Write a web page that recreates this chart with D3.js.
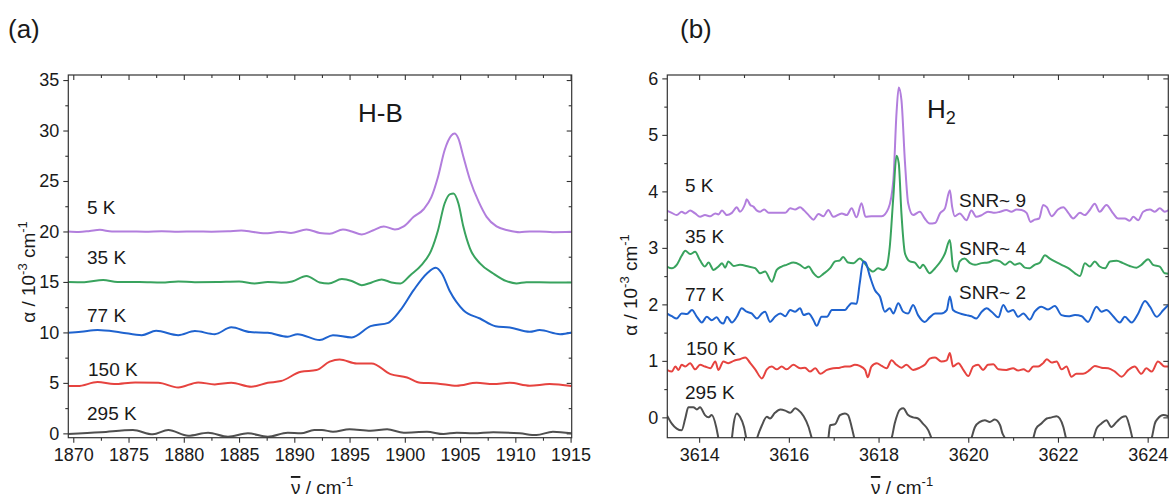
<!DOCTYPE html>
<html lang="en">
<head>
    <meta charset="UTF-8">
    <title>Temperature dependent spectra</title>
    <script src="https://d3js.org/d3.v7.min.js"></script>
    <style>
        body { margin: 0; background: #fff; }
        text { font-family: "Liberation Sans", Arial, sans-serif; fill: #1a1a1a; }
    </style>
</head>
<body>
<div id="chart"></div>
<script>
// ---- data (a) H-B band, x in cm-1, y in 10^-3 cm-1 ----
var hb5K = [[1869.5,20.0],[1870.5,19.95],[1871.5,20.05],[1872.4,20.16],[1873.5,20.0],[1875,20.0],[1876.5,19.97],[1878,20.02],[1879.5,19.98],[1881,20.0],[1882.5,19.98],[1884,20.02],[1885.2,20.1],[1886.3,19.95],[1887.6,19.82],[1888.7,19.98],[1889.7,19.85],[1891.1,20.2],[1892.3,19.85],[1893.2,19.77],[1894.4,20.2],[1895.2,20.0],[1896.1,19.7],[1897.1,20.1],[1898.1,20.5],[1899.1,20.2],[1899.9,20.5],[1900.8,21.45],[1901.7,22.2],[1902.4,23.4],[1903.0,25.4],[1903.6,28.05],[1904.2,29.5],[1904.5,29.7],[1904.85,29.2],[1905.3,27.4],[1905.9,25.1],[1906.7,22.9],[1907.4,21.45],[1908.3,20.5],[1909.4,20.1],[1910.4,19.93],[1911.3,20.0],[1912.2,20.0],[1913.4,19.93],[1915.1,19.96]];
var hb35K = [[1869.5,15.0],[1871,14.98],[1872.7,15.2],[1874,15.0],[1876,15.0],[1878,14.95],[1879.5,15.05],[1881,14.98],[1883,15.0],[1885,15.05],[1886.4,14.85],[1887.6,15.0],[1888.8,14.92],[1889.8,15.05],[1891.1,15.6],[1892.3,14.95],[1893.1,14.85],[1894.3,15.28],[1895.2,15.1],[1896.1,14.68],[1897.0,14.95],[1897.9,15.25],[1898.8,14.95],[1899.6,14.85],[1900.5,15.67],[1901.5,16.66],[1902.4,18.15],[1903.0,20.1],[1903.6,22.77],[1904.1,23.7],[1904.4,23.76],[1904.85,22.77],[1905.3,20.46],[1905.9,18.3],[1906.8,16.83],[1908.0,15.84],[1909.2,15.08],[1910.1,14.85],[1911.0,14.98],[1913.4,14.95],[1915.1,14.95]];
var hb77K = [[1869.5,9.96],[1870.7,10.06],[1872.2,10.23],[1874.3,10.0],[1876.2,9.73],[1877.5,10.16],[1879.5,9.73],[1881.0,10.13],[1882.8,9.83],[1884.3,10.5],[1886.0,10.03],[1887.6,9.96],[1889.4,9.57],[1890.3,9.83],[1892.3,9.24],[1893.5,9.73],[1895.2,9.5],[1896.9,10.62],[1898.5,10.95],[1899.6,12.2],[1900.8,14.19],[1902.0,15.84],[1902.8,16.4],[1903.35,15.84],[1904.1,14.02],[1905.3,12.2],[1906.8,11.38],[1908.2,10.62],[1909.5,10.49],[1911.3,10.06],[1912.2,10.23],[1914.05,9.83],[1915.1,10.0]];
var hb150K = [[1869.5,4.68],[1870.4,4.68],[1872.2,5.08],[1873.7,4.88],[1875.6,5.05],[1877.7,5.01],[1879.5,4.55],[1881.3,5.05],[1882.8,4.85],[1884.3,5.01],[1886.1,4.62],[1887.6,5.01],[1888.8,5.18],[1890.6,6.1],[1892.0,6.27],[1893.2,7.1],[1894.1,7.32],[1895.65,6.93],[1897.0,6.93],[1898.7,5.87],[1900.2,5.54],[1901.4,5.01],[1902.9,4.95],[1904.7,4.72],[1906.5,5.01],[1908.0,4.88],[1909.5,5.01],[1911.3,4.72],[1913.1,4.88],[1915.1,4.68]];
var hb295K = [[1869.5,-0.07],[1872.5,0.1],[1875.4,0.33],[1877.2,-0.1],[1878.6,0.33],[1880.4,-0.23],[1882.2,0.07],[1884.0,-0.33],[1885.8,0.0],[1887.6,-0.33],[1889.4,0.07],[1890.6,0.0],[1891.8,0.33],[1892.5,0.33],[1893.5,0.16],[1895.0,0.4],[1896.9,0.26],[1898.4,0.4],[1899.9,0.07],[1902.0,0.16],[1903.5,-0.07],[1904.7,0.07],[1906.2,0.0],[1908.0,0.1],[1910.4,0.0],[1911.9,-0.17],[1913.4,0.16],[1915.1,0.0]];

// ---- data (b) H2 band ----
var h5K = [[3613.28,3.66],[3613.39,3.62],[3613.50,3.58],[3613.61,3.64],[3613.69,3.61],[3613.80,3.66],[3613.91,3.61],[3614.02,3.55],[3614.13,3.58],[3614.25,3.56],[3614.36,3.61],[3614.43,3.59],[3614.51,3.66],[3614.62,3.58],[3614.73,3.62],[3614.84,3.72],[3614.91,3.64],[3615.03,3.79],[3615.06,3.86],[3615.14,3.76],[3615.21,3.73],[3615.29,3.66],[3615.36,3.64],[3615.45,3.68],[3615.55,3.62],[3615.66,3.62],[3615.81,3.62],[3615.92,3.62],[3616.03,3.70],[3616.14,3.68],[3616.25,3.72],[3616.33,3.67],[3616.44,3.58],[3616.55,3.50],[3616.66,3.60],[3616.77,3.56],[3616.88,3.67],[3616.99,3.55],[3617.18,3.61],[3617.29,3.58],[3617.40,3.70],[3617.51,3.54],[3617.62,3.79],[3617.71,3.55],[3617.84,3.56],[3618.07,3.56],[3618.22,3.70],[3618.33,4.20],[3618.40,5.38],[3618.45,5.84],[3618.51,5.62],[3618.59,4.50],[3618.66,3.79],[3618.77,3.58],[3618.92,3.64],[3619.03,3.52],[3619.14,3.43],[3619.26,3.44],[3619.37,3.61],[3619.48,3.70],[3619.59,4.02],[3619.64,3.73],[3619.70,3.56],[3619.81,3.61],[3619.96,3.49],[3620.07,3.66],[3620.18,3.55],[3620.30,3.58],[3620.44,3.64],[3620.59,3.62],[3620.71,3.64],[3620.85,3.67],[3620.96,3.64],[3621.08,3.68],[3621.19,3.67],[3621.30,3.62],[3621.39,3.46],[3621.48,3.50],[3621.58,3.52],[3621.67,3.76],[3621.75,3.72],[3621.86,3.56],[3622.00,3.68],[3622.12,3.72],[3622.23,3.62],[3622.34,3.52],[3622.49,3.62],[3622.60,3.58],[3622.71,3.67],[3622.82,3.78],[3622.93,3.64],[3623.08,3.76],[3623.23,3.61],[3623.34,3.52],[3623.49,3.52],[3623.60,3.48],[3623.68,3.55],[3623.79,3.49],[3623.90,3.64],[3624.05,3.68],[3624.16,3.64],[3624.27,3.70],[3624.38,3.64],[3624.49,3.68]];
var h35K = [[3613.28,2.67],[3613.39,2.64],[3613.50,2.70],[3613.61,2.86],[3613.69,2.95],[3613.80,2.89],[3613.91,2.93],[3614.02,2.78],[3614.13,2.67],[3614.21,2.74],[3614.32,2.61],[3614.43,2.67],[3614.51,2.73],[3614.58,2.65],[3614.65,2.76],[3614.77,2.68],[3614.91,2.70],[3615.10,2.67],[3615.25,2.64],[3615.36,2.55],[3615.47,2.58],[3615.62,2.40],[3615.73,2.61],[3615.84,2.67],[3615.95,2.70],[3616.10,2.74],[3616.25,2.70],[3616.36,2.64],[3616.44,2.67],[3616.55,2.55],[3616.66,2.48],[3616.77,2.54],[3616.92,2.64],[3617.03,2.76],[3617.14,2.78],[3617.21,2.84],[3617.32,2.74],[3617.44,2.73],[3617.58,2.81],[3617.66,2.76],[3617.77,2.64],[3617.88,2.58],[3617.99,2.64],[3618.10,2.61],[3618.18,2.67],[3618.25,3.02],[3618.33,3.91],[3618.40,4.63],[3618.45,4.50],[3618.51,3.61],[3618.59,2.90],[3618.70,2.76],[3618.81,2.74],[3618.92,2.64],[3618.99,2.70],[3619.14,2.55],[3619.26,2.64],[3619.40,2.78],[3619.48,2.90],[3619.59,3.14],[3619.66,2.67],[3619.74,2.58],[3619.81,2.76],[3619.92,2.81],[3620.04,2.73],[3620.15,2.70],[3620.30,2.73],[3620.44,2.74],[3620.59,2.78],[3620.71,2.76],[3620.82,2.70],[3620.93,2.76],[3621.04,2.70],[3621.15,2.73],[3621.26,2.65],[3621.37,2.64],[3621.48,2.70],[3621.60,2.74],[3621.71,2.87],[3621.82,2.81],[3621.93,2.76],[3622.08,2.70],[3622.23,2.64],[3622.38,2.55],[3622.49,2.50],[3622.60,2.73],[3622.71,2.67],[3622.82,2.76],[3622.93,2.67],[3623.05,2.64],[3623.16,2.76],[3623.31,2.77],[3623.45,2.73],[3623.60,2.68],[3623.75,2.65],[3623.86,2.70],[3624.01,2.80],[3624.12,2.70],[3624.27,2.67],[3624.38,2.55],[3624.49,2.54]];
var h77K = [[3613.28,1.84],[3613.39,1.79],[3613.50,1.75],[3613.61,1.84],[3613.73,1.83],[3613.84,1.90],[3613.95,1.78],[3614.06,1.68],[3614.17,1.78],[3614.28,1.72],[3614.39,1.77],[3614.47,1.69],[3614.54,1.66],[3614.62,1.78],[3614.73,1.68],[3614.84,1.78],[3614.95,1.93],[3615.06,1.87],[3615.17,1.84],[3615.29,1.75],[3615.40,1.84],[3615.47,1.87],[3615.58,1.69],[3615.69,1.78],[3615.81,1.84],[3615.92,1.79],[3616.03,1.90],[3616.14,1.87],[3616.25,1.93],[3616.33,1.81],[3616.44,1.84],[3616.55,1.72],[3616.62,1.62],[3616.73,1.78],[3616.85,1.78],[3616.96,1.90],[3617.14,1.90],[3617.25,1.90],[3617.32,1.96],[3617.40,2.02],[3617.51,2.01],[3617.58,2.37],[3617.66,2.76],[3617.71,2.74],[3617.81,2.49],[3617.92,2.25],[3618.03,2.14],[3618.14,1.87],[3618.25,1.93],[3618.33,1.84],[3618.44,2.02],[3618.55,1.87],[3618.66,1.84],[3618.77,1.99],[3618.88,1.81],[3619.03,1.69],[3619.14,1.77],[3619.26,1.84],[3619.40,1.84],[3619.52,1.90],[3619.59,2.14],[3619.66,1.90],[3619.81,1.84],[3619.96,1.81],[3620.07,1.79],[3620.18,1.75],[3620.30,1.87],[3620.41,1.93],[3620.52,1.87],[3620.67,1.77],[3620.78,1.99],[3620.89,1.87],[3621.00,1.90],[3621.11,1.78],[3621.23,1.84],[3621.37,1.73],[3621.48,1.87],[3621.63,1.96],[3621.78,1.91],[3621.93,1.97],[3622.08,1.81],[3622.23,1.79],[3622.38,1.81],[3622.53,1.79],[3622.67,1.69],[3622.86,1.96],[3622.97,1.87],[3623.08,1.90],[3623.23,1.79],[3623.38,1.68],[3623.49,1.78],[3623.64,1.68],[3623.79,1.84],[3623.94,2.06],[3624.05,1.96],[3624.20,1.78],[3624.35,1.90],[3624.46,1.99]];
var h150K = [[3613.28,0.84],[3613.39,0.81],[3613.47,0.90],[3613.54,0.84],[3613.61,0.93],[3613.69,0.90],[3613.80,0.96],[3613.91,0.85],[3614.02,0.93],[3614.13,0.90],[3614.25,0.87],[3614.36,0.99],[3614.43,0.84],[3614.54,0.99],[3614.65,0.96],[3614.77,1.00],[3614.91,1.03],[3615.03,1.06],[3615.14,0.96],[3615.25,0.85],[3615.40,0.69],[3615.51,0.85],[3615.62,0.90],[3615.73,0.85],[3615.84,0.90],[3615.95,0.85],[3616.10,0.93],[3616.25,0.87],[3616.36,0.88],[3616.47,0.81],[3616.59,0.87],[3616.70,0.77],[3616.85,0.84],[3616.99,0.87],[3617.14,0.88],[3617.25,0.90],[3617.36,0.90],[3617.47,0.93],[3617.58,0.91],[3617.70,0.84],[3617.76,0.71],[3617.84,0.90],[3617.96,0.96],[3618.07,0.91],[3618.18,0.87],[3618.29,1.01],[3618.40,0.93],[3618.51,0.88],[3618.62,0.93],[3618.77,0.84],[3618.92,0.88],[3619.03,0.93],[3619.14,1.04],[3619.26,1.06],[3619.40,0.99],[3619.52,1.01],[3619.59,1.14],[3619.66,0.90],[3619.78,0.96],[3619.89,0.84],[3620.00,0.73],[3620.11,0.90],[3620.22,0.93],[3620.33,0.84],[3620.44,0.93],[3620.56,0.94],[3620.67,0.85],[3620.85,0.84],[3621.00,0.87],[3621.11,0.83],[3621.23,0.85],[3621.34,0.81],[3621.45,0.90],[3621.56,0.90],[3621.67,0.96],[3621.75,1.03],[3621.86,0.97],[3621.97,0.99],[3622.08,0.85],[3622.19,0.90],[3622.30,0.72],[3622.41,0.77],[3622.56,0.77],[3622.71,0.84],[3622.82,0.91],[3622.97,0.88],[3623.12,0.87],[3623.27,0.81],[3623.42,0.72],[3623.57,0.84],[3623.71,0.90],[3623.86,0.77],[3623.97,0.87],[3624.09,0.81],[3624.23,0.99],[3624.38,0.90],[3624.49,0.90]];
var h295K = [[3613.28,0.04],[3613.39,-0.11],[3613.50,-0.20],[3613.61,-0.23],[3613.69,-0.02],[3613.76,0.18],[3613.87,0.18],[3613.95,0.14],[3614.02,0.18],[3614.13,0.04],[3614.21,0.0],[3614.28,0.04],[3614.38,-0.17],[3614.43,-0.37],[3614.55,-0.8],[3614.65,-0.8],[3614.73,-0.37],[3614.77,-0.11],[3614.84,0.07],[3614.91,0.01],[3615.00,-0.17],[3615.05,-0.37],[3615.15,-0.8],[3615.29,-0.37],[3615.40,-0.14],[3615.51,0.01],[3615.58,-0.02],[3615.69,0.08],[3615.81,0.14],[3615.92,0.12],[3616.03,0.08],[3616.14,0.16],[3616.21,0.13],[3616.33,0.02],[3616.44,-0.17],[3616.51,-0.37],[3616.65,-0.8],[3616.88,-0.37],[3616.92,-0.14],[3617.03,-0.12],[3617.14,0.04],[3617.25,0.07],[3617.32,0.04],[3617.40,-0.17],[3617.46,-0.37],[3617.6,-0.8],[3617.9,-0.8],[3618.29,-0.37],[3618.36,-0.11],[3618.48,0.14],[3618.55,0.16],[3618.66,0.04],[3618.77,0.0],[3618.88,-0.02],[3618.99,-0.11],[3619.11,-0.23],[3619.18,-0.37],[3619.4,-0.8],[3619.8,-0.8],[3620.07,-0.37],[3620.15,-0.17],[3620.26,-0.08],[3620.37,-0.05],[3620.48,-0.08],[3620.59,-0.04],[3620.71,-0.14],[3620.76,-0.28],[3620.82,-0.37],[3621.0,-0.8],[3621.3,-0.8],[3621.45,-0.37],[3621.51,-0.20],[3621.63,-0.11],[3621.75,-0.02],[3621.86,0.0],[3621.97,0.02],[3622.04,-0.02],[3622.12,-0.17],[3622.18,-0.37],[3622.4,-0.8],[3622.79,-0.37],[3622.86,-0.20],[3622.97,-0.11],[3623.08,-0.05],[3623.19,-0.17],[3623.31,-0.08],[3623.42,0.0],[3623.51,0.02],[3623.60,-0.17],[3623.66,-0.37],[3623.8,-0.8],[3624.09,-0.37],[3624.16,-0.11],[3624.23,-0.02],[3624.35,0.04],[3624.46,0.02]];

var tempLabels = ["5 K", "35 K", "77 K", "150 K", "295 K"];
var snrLabels = ["SNR~ 9", "SNR~ 4", "SNR~ 2"];
var colors = ["#b27edd", "#39a35e", "#1f63cf", "#e6433f", "#4f4f4f"];

var svg = d3.select("#chart").append("svg")
    .attr("width", 1174)
    .attr("height", 500);

var tickFont = 18;
var labelFont = 19;

function drawPanel(cfg) {
    var x = d3.scaleLinear().domain(cfg.xDomain).range([cfg.left, cfg.right]);
    var y = d3.scaleLinear().domain(cfg.yDomain).range([cfg.bottom, cfg.top]);
    var g = svg.append("g");

    g.append("clipPath").attr("id", cfg.id + "-clip")
        .append("rect")
        .attr("x", cfg.left).attr("y", cfg.top)
        .attr("width", cfg.right - cfg.left).attr("height", cfg.bottom - cfg.top);

    // minor ticks first, then major
    function axis(gen, values, size, labels, transform, pad) {
        var a = g.append("g")
            .attr("transform", transform)
            .call(gen.tickValues(values).tickSize(size).tickPadding(pad || 3)
                .tickFormat(labels ? d3.format("d") : ""));
        a.select(".domain").remove();
        a.selectAll("line").attr("stroke", "#333").attr("stroke-width", 1.1);
        a.selectAll("text").style("font-size", tickFont + "px")
            .style("font-family", "'Liberation Sans', Arial, sans-serif")
            .attr("fill", "#222");
        return a;
    }
    axis(d3.axisBottom(x), cfg.xMinor, 3, false, "translate(0," + cfg.bottom + ")");
    axis(d3.axisBottom(x), cfg.xMajor, 5, true, "translate(0," + cfg.bottom + ")", 6);
    axis(d3.axisTop(x), cfg.xMinor, -3, false, "translate(0," + cfg.top + ")");
    axis(d3.axisTop(x), cfg.xMajor, -5, false, "translate(0," + cfg.top + ")");
    axis(d3.axisLeft(y), cfg.yMinor, 3, false, "translate(" + cfg.left + ",0)");
    axis(d3.axisLeft(y), cfg.yMajor, 5, true, "translate(" + cfg.left + ",0)", 4);
    axis(d3.axisRight(y), cfg.yMinor, -3, false, "translate(" + cfg.right + ",0)");
    axis(d3.axisRight(y), cfg.yMajor, -5, false, "translate(" + cfg.right + ",0)");

    var line = d3.line()
        .x(function (d) { return x(d[0]); })
        .y(function (d) { return y(d[1]); })
        .curve(cfg.curve);

    var lines = g.append("g").attr("clip-path", "url(#" + cfg.id + "-clip)");
    cfg.series.forEach(function (s, i) {
        lines.append("path")
            .datum(s)
            .attr("fill", "none")
            .attr("stroke", colors[i])
            .attr("stroke-width", 2)
            .attr("stroke-linejoin", "round")
            .attr("d", line);
    });

    g.append("rect")
        .attr("x", cfg.left).attr("y", cfg.top)
        .attr("width", cfg.right - cfg.left).attr("height", cfg.bottom - cfg.top)
        .attr("fill", "none").attr("stroke", "#333").attr("stroke-width", 1.2);

    // temperature labels
    tempLabels.forEach(function (t, i) {
        g.append("text")
            .attr("x", cfg.labelX[i])
            .attr("y", cfg.labelY[i])
            .style("font-size", labelFont + "px")
            .text(t);
    });

    // y title
    var yt = g.append("text")
        .attr("transform", "translate(" + cfg.yTitleX + "," + cfg.yTitleY + ") rotate(-90)")
        .attr("text-anchor", "middle")
        .style("font-size", "19px");
    yt.append("tspan").text("\u03b1 / 10");
    yt.append("tspan").attr("dy", -8).style("font-size", "13px").text("-3");
    yt.append("tspan").attr("dy", 8).text(" cm");
    yt.append("tspan").attr("dy", -8).style("font-size", "13px").text("-1");

    // x title, wavenumber symbol with an overbar
    var xt = g.append("text")
        .attr("x", cfg.xTitleX)
        .attr("y", 494)
        .attr("text-anchor", "middle")
        .style("font-size", "19px");
    xt.append("tspan").style("text-decoration", "overline").text("\u03bd");
    xt.append("tspan").text(" / cm");
    xt.append("tspan").attr("dy", -8).style("font-size", "13px").text("-1");

    g.append("text")
        .attr("x", cfg.tagX).attr("y", 38)
        .style("font-size", "26px")
        .text(cfg.tag);

    return { x: x, y: y, g: g };
}

var pa = drawPanel({
    id: "pa", tag: "(a)", tagX: 8,
    left: 68.3, right: 571.7, top: 75, bottom: 437.7,
    xDomain: [1869.55, 1915.1], yDomain: [-0.43, 35.5],
    xMajor: d3.range(1870, 1916, 5), xMinor: d3.range(1872.5, 1915, 5),
    yMajor: d3.range(0, 36, 5), yMinor: d3.range(2.5, 35, 5),
    series: [hb5K, hb35K, hb77K, hb150K, hb295K],
    curve: d3.curveMonotoneX,
    labelX: [87, 87, 87, 88, 87], labelY: [214, 264, 322, 376, 420],
    yTitleX: 35, yTitleY: 272, xTitleX: 322
});
pa.g.append("text").attr("x", 358).attr("y", 122).style("font-size", "26px").text("H-B");

var pb = drawPanel({
    id: "pb", tag: "(b)", tagX: 680,
    left: 667.3, right: 1168.3, top: 75, bottom: 437.7,
    xDomain: [3613.29, 3624.46], yDomain: [-0.36, 6.06],
    xMajor: d3.range(3614, 3625, 2), xMinor: d3.range(3615, 3625, 2),
    yMajor: d3.range(0, 7, 1), yMinor: d3.range(0.5, 6, 1),
    series: [h5K, h35K, h77K, h150K, h295K],
    curve: d3.curveMonotoneX,
    labelX: [685, 685, 685, 686, 685], labelY: [192, 243, 301, 355, 399],
    yTitleX: 637, yTitleY: 285, xTitleX: 902
});
var h2 = pb.g.append("text").attr("x", 927).attr("y", 118).style("font-size", "26px");
h2.append("tspan").text("H");
h2.append("tspan").attr("dy", 6).style("font-size", "18px").text("2");

var snrY = [207, 255, 299];
snrLabels.forEach(function (s, i) {
    pb.g.append("text").attr("x", 959).attr("y", snrY[i])
        .style("font-size", "19px").text(s);
});
</script>
</body>
</html>
